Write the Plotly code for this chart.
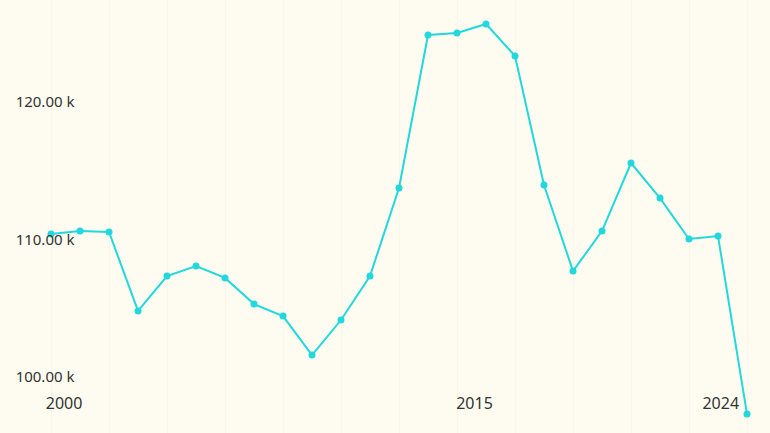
import plotly.graph_objects as go

years = list(range(2000, 2025))
values = [110390, 110600, 110530, 104790, 107330, 108060, 107190, 105290, 104420, 101580,
          104130, 107330, 113730, 124860, 125000, 125660, 123330, 113950, 107690, 110600,
          115550, 113000, 110020, 110240, 97290]
x_tick_years = [2000, 2015, 2024]
y_tick_values = [100000, 110000, 120000]
y_tick_text = [f"{v/1000:.2f} k" for v in y_tick_values]

BG = "#fefcf0"
LINE = "#22d8dc"

fig = go.Figure()
fig.add_trace(go.Scatter(
    x=years, y=values, mode="lines+markers",
    line=dict(color=LINE, width=2),
    marker=dict(color=LINE, size=7),
    hoverinfo="x+y", showlegend=False,
))
# invisible trace to activate the label axis
fig.add_trace(go.Scatter(x=[x_tick_years[0]], y=[values[0]], xaxis="x2", mode="markers",
                         marker=dict(opacity=0), showlegend=False, hoverinfo="skip"))

fig.update_layout(
    width=770, height=433,
    margin=dict(l=0, r=0, t=0, b=0),
    paper_bgcolor=BG, plot_bgcolor=BG,
    font=dict(family="Noto Sans", color="#333333", size=15),
    xaxis=dict(range=[1998.241, 2024.793], tick0=2000, dtick=2,
               showgrid=True, gridcolor="#faf7e8", gridwidth=1,
               showticklabels=False, zeroline=False, showline=False, ticks=""),
    xaxis2=dict(overlaying="x", anchor="free", position=0.049, side="top",
                range=[1997.66, 2025.80],
                tickvals=x_tick_years, ticktext=[str(y) for y in x_tick_years],
                showgrid=False, zeroline=False, showline=False, ticks="",
                tickfont=dict(size=16)),
    yaxis=dict(range=[95913, 127404], tickvals=y_tick_values, ticktext=y_tick_text,
               anchor="free", position=0.019, side="right",
               showgrid=False, zeroline=False, showline=False, ticks="",
               tickfont=dict(size=15)),
)

fig.write_html("out.html", config={"displayModeBar": False},
               post_script="document.body.style.margin='0';document.body.style.overflow='hidden';")
